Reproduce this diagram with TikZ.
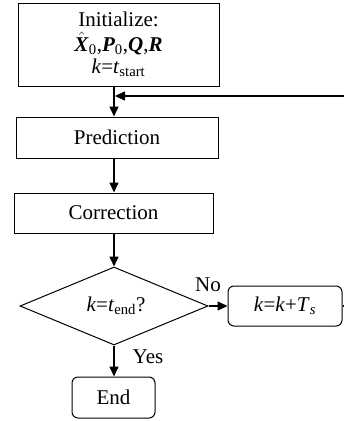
\documentclass[tikz,border=0pt]{standalone}
\usepackage{fontspec}
\setmainfont{Liberation Serif}
\usetikzlibrary{shapes.geometric,arrows.meta,calc}
\begin{document}
\begin{tikzpicture}[x=1pt,y=-1pt,
  every node/.style={font=\fontsize{21}{24}\selectfont},
  box/.style={draw,line width=1pt,rectangle,inner sep=0pt},
  rbox/.style={box,rounded corners=6pt},
  dbox/.style={draw,line width=1pt,diamond,aspect=2.4,inner sep=0pt,minimum width=188pt,minimum height=78pt},
  flow/.style={line width=1.6pt,-{Triangle[length=10pt,width=9pt]}},
  lbl/.style={inner sep=0pt}]
\useasboundingbox (0,0) rectangle (344,421);
\coordinate (col) at (114,0);
\node[box,minimum width=201pt,minimum height=83pt,align=center] (init) at (118.5,44.5)
  {Initialize:\\[1pt]$\hat{\textbf{\textit{X}}}$\textsubscript{0},\textbf{\textit{P}}\textsubscript{0},\textbf{\textit{Q}},\textbf{\textit{R}}\\[-2pt]\textit{k}=\textit{t}\textsubscript{start}};
\node[box,minimum width=202pt,minimum height=41pt] (pred) at (117,137.5) {Prediction};
\node[box,minimum width=199pt,minimum height=40pt] (corr) at (113.5,213) {Correction};
\node[dbox] (dec) at (114,306) {};
\node[lbl] (dect) at (116,306) {\textit{k}=\textit{t}\textsubscript{end}?};
\node[rbox,minimum width=114pt,minimum height=40pt] (kup) at (285,306) {\textit{k}=\textit{k}+\textit{T}\textsubscript{\textit{s}}};
\node[rbox,minimum width=83pt,minimum height=41pt] (end) at (113.5,397.5) {End};
\node[lbl] (no) at (208,285) {No};
\node[lbl] (yes) at (148,357) {Yes};
\coordinate (join) at (114,96);
\coordinate (rt) at (347,306);
\coordinate (rtop) at (347,96);
\draw[flow] (init.south -| col) -- (pred.north -| col);
\draw[flow] (pred.south -| col) -- (corr.north -| col);
\draw[flow] (corr.south -| col) -- (dec.north);
\draw[flow] (dec.east) -- (kup.west);
\draw[flow] (dec.south) -- (end.north -| dec.south);
\draw[flow] (kup.east) -- (rt) -- (rtop) -- ($(join)+(1,0)$);
\end{tikzpicture}
\end{document}
